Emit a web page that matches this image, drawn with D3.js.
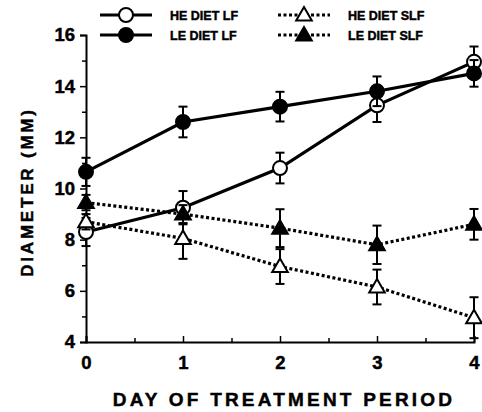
<!DOCTYPE html>
<html>
<head>
<meta charset="utf-8">
<script src="https://cdn.jsdelivr.net/npm/d3@7"></script>
<style>
  body { margin: 0; background: #fff; }
  svg { display: block; font-family: "Liberation Sans", Arial, sans-serif; font-weight: bold; }
  text { stroke: #000; stroke-width: 0.45px; }
</style>
</head>
<body>
<svg width="482" height="412"></svg>
<script>
// dati
const days = [0, 1, 2, 3, 4];
const heLF = [8.3, 9.25, 10.8, 13.25, 14.95];
const heLFerr = [0.55, 0.65, 0.6, 0.65, 0.6];
const leLF = [10.65, 12.6, 13.2, 13.8, 14.5];
const leLFerr = [0.55, 0.6, 0.58, 0.58, 0.52];
const heSLF = [8.7, 8.05, 6.95, 6.15, 4.95];
const heSLFerr = [0.3, 0.8, 0.68, 0.68, 0.8];
const leSLF = [9.45, 9.0, 8.45, 7.8, 8.6];
const leSLFerr = [0.3, 0.35, 0.74, 0.75, 0.6];
const yTicks = [4, 6, 8, 10, 12, 14, 16];

const series = [
  { name: "HE DIET LF", values: heLF, err: heLFerr, shape: "circle", fill: "#fff", dash: null },
  { name: "LE DIET LF", values: leLF, err: leLFerr, shape: "circle", fill: "#000", dash: null },
  { name: "HE DIET SLF", values: heSLF, err: heSLFerr, shape: "triangle", fill: "#fff", dash: "3,2.5" },
  { name: "LE DIET SLF", values: leSLF, err: leSLFerr, shape: "triangle", fill: "#000", dash: "3,2.5" }
];

const svg = d3.select("svg");
const margin = { top: 35, right: 8, bottom: 70, left: 86 };

const x = d3.scaleLinear().domain([0, 4]).range([margin.left, 474]);
const y = d3.scaleLinear().domain([4, 16]).range([342, 35]);

// assi
svg.append("g").attr("transform", "translate(0,342)")
  .call(d3.axisBottom(x).tickValues(days).tickFormat(d3.format("d")).tickSize(-6).tickPadding(14));
svg.append("g").attr("transform", "translate(0,342)")
  .call(d3.axisBottom(x).tickValues([0.5, 1.5, 2.5, 3.5]).tickFormat("").tickSize(-4))
  .select(".domain").remove();

svg.append("g").attr("transform", `translate(${margin.left},0)`)
  .call(d3.axisLeft(y).tickValues(yTicks).tickSize(6).tickPadding(5));
svg.append("g").attr("transform", `translate(${margin.left},0)`)
  .call(d3.axisLeft(y).tickValues([5, 7, 9, 11, 13, 15]).tickFormat("").tickSize(4))
  .select(".domain").remove();

svg.selectAll(".tick text")
  .attr("font-size", 18.5)
  .attr("font-family", "Liberation Sans, Arial")
  .style("font-weight", "bold");
svg.selectAll(".domain").attr("stroke-width", 2);
svg.selectAll(".tick line").attr("stroke-width", 1.5);

// titoli assi
svg.append("text")
  .attr("x", 284).attr("y", 406)
  .attr("text-anchor", "middle")
  .attr("font-size", 19)
  .attr("letter-spacing", 3.2)
  .text("DAY OF TREATMENT PERIOD");

svg.append("text")
  .attr("transform", "translate(33,192) rotate(-90)")
  .attr("text-anchor", "middle")
  .attr("font-size", 17)
  .attr("letter-spacing", 2.8)
  .text("DIAMETER (MM)");

const tri = d3.symbol().type(d3.symbolTriangle).size(105);

function marker(g, s, cx, cy) {
  if (s.shape === "circle") {
    g.append("circle").attr("cx", cx).attr("cy", cy).attr("r", 7)
      .attr("fill", s.fill).attr("stroke", "#000").attr("stroke-width", 2);
  } else {
    g.append("path").attr("d", tri).attr("transform", `translate(${cx},${cy + 1})`)
      .attr("fill", s.fill).attr("stroke", "#000").attr("stroke-width", 2);
  }
}

const line = d3.line().x((d, i) => x(days[i])).y(d => y(d));

series.forEach(s => {
  const g = svg.append("g");
  // barre d'errore
  days.forEach((d, i) => {
    const cx = x(d), hi = y(s.values[i] + s.err[i]), lo = y(s.values[i] - s.err[i]);
    g.append("line").attr("x1", cx).attr("x2", cx).attr("y1", hi).attr("y2", lo)
      .attr("stroke", "#000").attr("stroke-width", 2);
    [hi, lo].forEach(v => g.append("line").attr("x1", cx - 4.5).attr("x2", cx + 4.5)
      .attr("y1", v).attr("y2", v).attr("stroke", "#000").attr("stroke-width", 2));
  });
  g.append("path").datum(s.values).attr("d", line)
    .attr("fill", "none").attr("stroke", "#000")
    .attr("stroke-width", 3.2)
    .attr("stroke-dasharray", s.dash);
  days.forEach((d, i) => marker(g, s, x(d), y(s.values[i])));
});

// legenda
const legPos = [[100, 15], [100, 35], [278, 15], [278, 35]];
series.forEach((s, i) => {
  const [lx, ly] = legPos[i];
  const g = svg.append("g");
  g.append("line").attr("x1", lx).attr("x2", lx + 52).attr("y1", ly).attr("y2", ly)
    .attr("stroke", "#000").attr("stroke-width", 3.2)
    .attr("stroke-dasharray", s.dash);
  marker(g, s, lx + 26, ly);
  g.append("text").attr("x", lx + 70).attr("y", ly + 5)
    .attr("font-size", 12.5).text(s.name);
});
</script>
</body>
</html>
